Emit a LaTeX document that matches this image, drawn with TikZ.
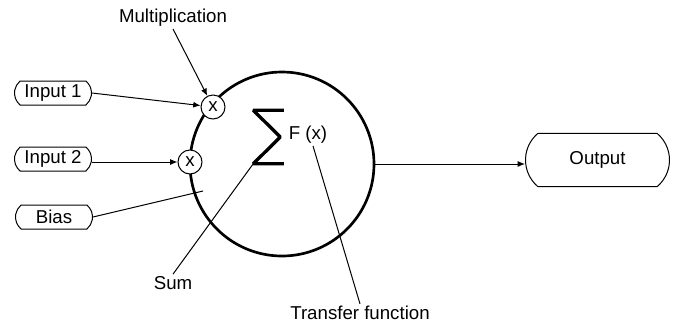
\documentclass[tikz,border=0pt]{standalone}
\usepackage{fontspec}
\setmainfont{Liberation Sans}
\usetikzlibrary{arrows.meta,shapes.misc}

\begin{document}
\begin{tikzpicture}[x=0.75pt, y=-0.75pt, every node/.style={font=\fontsize{14}{16}\selectfont, inner sep=1.5pt}]
  \tikzstyle{pill}=[rounded rectangle, rounded rectangle arc length=100, draw, line width=0.75pt,
  minimum width=60.75pt, minimum height=18pt]
  \tikzstyle{mult}=[circle, draw, fill=white, line width=0.75pt, minimum size=18pt, inner sep=0pt]
  \tikzstyle{pointer}=[-{Latex[length=5.5pt,width=4.5pt]}, line width=0.75pt]
  \tikzstyle{lead}=[line width=0.75pt]
  \path[use as bounding box] (0,0) rectangle (675,326);
  % neuron body
  \node[circle, draw, line width=2pt, minimum size=138pt, inner sep=0pt] (neuron) at (282,164) {};
  \node[mult] (m1) at (213,107) {x};
  \node[mult] (m2) at (190,162) {x};
  % sum sign and transfer function
  \node[minimum width=22.5pt, minimum height=39.75pt, inner sep=0pt] (sigma) at (268.5,137) {};
  \draw[line width=2.5pt, line join=bevel] (sigma.north east) -- (sigma.north west)
    -- ([xshift=-2.6pt]sigma.east) -- (sigma.south west) -- (sigma.south east);
  \node (fx) at (308,135) {F (x)};
  % inputs and output
  \node[pill] (in1) at (53,93) {Input 1};
  \node[pill] (in2) at (53,159) {Input 2};
  \node[pill] (bias) at (54,217) {Bias};
  \node[pill, minimum width=111pt, minimum height=40pt, anchor=west] (out) at (525,160) {Output};
  % labels
  \node (multlabel) at (173,18) {Multiplication};
  \node (sumlabel) at (173,283) {Sum};
  \node (translabel) at (360,313) {Transfer function};
  \coordinate (biasend) at (203,191);
  \draw[pointer] (in1.east) -- (m1);
  \draw[pointer] (in2.east |- m2) -- (m2);
  \draw[lead] (bias.east) -- (biasend);
  \draw[pointer] (neuron.east) -- (out.west |- neuron.east);
  \draw[pointer] (multlabel.south) -- (m1);
  \draw[lead] (sumlabel.north) -- (sigma.south west);
  \draw[lead] (translabel.north) -- ([xshift=3.75pt]fx.south);
\end{tikzpicture}
\end{document}
